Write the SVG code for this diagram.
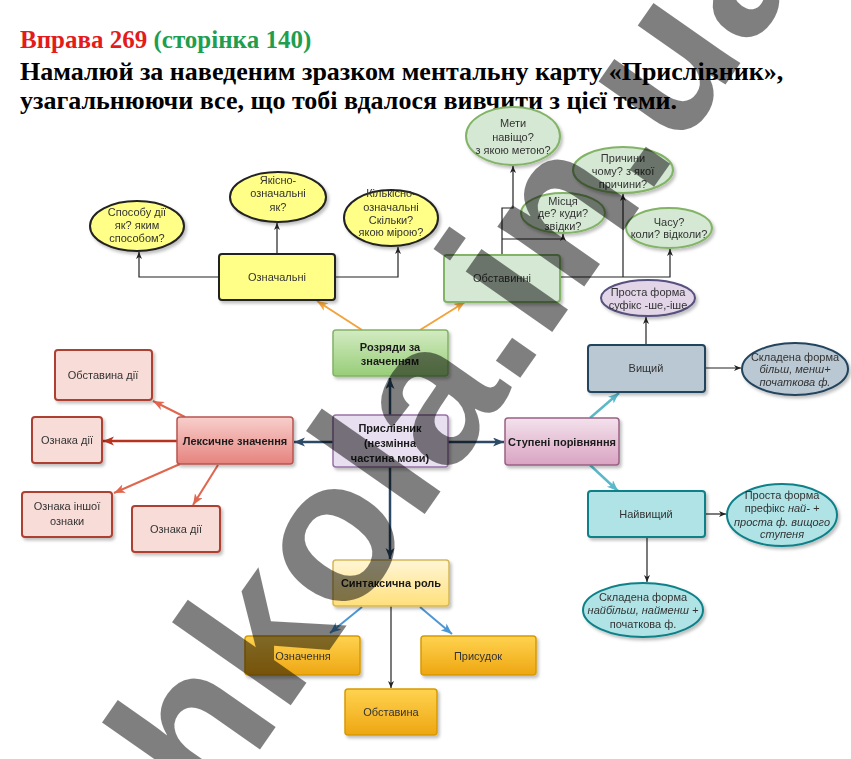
<svg xmlns="http://www.w3.org/2000/svg" width="851" height="759" viewBox="0 0 851 759">
<style>
.t{font-family:"Liberation Sans",Arial,sans-serif;font-size:11px;fill:#333;text-anchor:middle}
.b{font-weight:bold;fill:#1a1a1a}
.i{font-style:italic}
.thin{fill:none;stroke:#222;stroke-width:1.2}
.hd{font-family:"Liberation Serif","Times New Roman",serif;font-weight:bold}
</style>
<defs>
<filter id="sh" x="-20%" y="-20%" width="140%" height="150%"><feDropShadow dx="2" dy="2.5" stdDeviation="1.5" flood-color="#000" flood-opacity="0.25"/></filter>
<linearGradient id="gG" x1="0" y1="0" x2="0" y2="1"><stop offset="0" stop-color="#d3ebc2"/><stop offset="1" stop-color="#97cd78"/></linearGradient>
<linearGradient id="gR" x1="0" y1="0" x2="0" y2="1"><stop offset="0" stop-color="#f8cfcc"/><stop offset="1" stop-color="#e6837e"/></linearGradient>
<linearGradient id="gP" x1="0" y1="0" x2="0" y2="1"><stop offset="0" stop-color="#f3e2ec"/><stop offset="1" stop-color="#d9a3c2"/></linearGradient>
<linearGradient id="gY" x1="0" y1="0" x2="0" y2="1"><stop offset="0" stop-color="#fff6d6"/><stop offset="1" stop-color="#ffe07a"/></linearGradient>
<linearGradient id="gO" x1="0" y1="0" x2="0" y2="1"><stop offset="0" stop-color="#ffd34f"/><stop offset="1" stop-color="#eea612"/></linearGradient>
<marker id="mk" markerUnits="userSpaceOnUse" markerWidth="8" markerHeight="7" refX="7" refY="3" orient="auto"><path d="M0,0 L7,3 L0,6 L2,3 Z" fill="#222"/></marker>
<marker id="mn" markerUnits="userSpaceOnUse" markerWidth="12" markerHeight="10" refX="11" refY="4.5" orient="auto"><path d="M0,0 L11,4.5 L0,9 L3,4.5 Z" fill="#2c4a66"/></marker>
<marker id="mo" markerUnits="userSpaceOnUse" markerWidth="12" markerHeight="10" refX="11" refY="4.5" orient="auto"><path d="M0,0 L11,4.5 L0,9 L3,4.5 Z" fill="#f2a33c"/></marker>
<marker id="mr" markerUnits="userSpaceOnUse" markerWidth="12" markerHeight="10" refX="11" refY="4.5" orient="auto"><path d="M0,0 L11,4.5 L0,9 L3,4.5 Z" fill="#b5331f"/></marker>
<marker id="ms" markerUnits="userSpaceOnUse" markerWidth="12" markerHeight="10" refX="11" refY="4.5" orient="auto"><path d="M0,0 L11,4.5 L0,9 L3,4.5 Z" fill="#e0664d"/></marker>
<marker id="mt" markerUnits="userSpaceOnUse" markerWidth="12" markerHeight="10" refX="11" refY="4.5" orient="auto"><path d="M0,0 L11,4.5 L0,9 L3,4.5 Z" fill="#5ab8c8"/></marker>
<marker id="mb" markerUnits="userSpaceOnUse" markerWidth="12" markerHeight="10" refX="11" refY="4.5" orient="auto"><path d="M0,0 L11,4.5 L0,9 L3,4.5 Z" fill="#4d96d4"/></marker>
</defs>
<rect width="851" height="759" fill="#fff"/>

<g id="header">
<text class="hd" x="20" y="48" font-size="25"><tspan fill="#e31b1b">Вправа 269</tspan><tspan fill="#1f9e4f"> (сторінка 140)</tspan></text>
<text class="hd" x="20" y="80" font-size="26" fill="#000">Намалюй за наведеним зразком ментальну карту «Прислівник»,</text>
<text class="hd" x="20" y="109" font-size="26" fill="#000">узагальнюючи все, що тобі вдалося вивчити з цієї теми.</text>
</g>

<g id="connectors">
<path class="thin" d="M219,277 H139 V252" marker-end="url(#mk)"/>
<path class="thin" d="M277,254 V223" marker-end="url(#mk)"/>
<path class="thin" d="M335,277 H398 V247" marker-end="url(#mk)"/>
<path class="thin" d="M502,255 V208 H513 V166" marker-end="url(#mk)"/>
<path class="thin" d="M502,239 H563 V234" marker-end="url(#mk)"/>
<path class="thin" d="M560,277 H670 V249" marker-end="url(#mk)"/>
<path class="thin" d="M623,277 V194" marker-end="url(#mk)"/>
<path class="thin" d="M646,345 V317" marker-end="url(#mk)"/>
<path class="thin" d="M705,368 H741" marker-end="url(#mk)"/>
<path class="thin" d="M705,514 H726" marker-end="url(#mk)"/>
<path class="thin" d="M647,537 V582" marker-end="url(#mk)"/>
<path class="thin" d="M391,606 V688" marker-end="url(#mk)"/>
<g fill="none" stroke-width="2.5">
<path d="M390,415 V378" stroke="#2c4a66" marker-end="url(#mn)"/>
<path d="M448,442 H504" stroke="#2c4a66" marker-end="url(#mn)"/>
<path d="M333,442 H294" stroke="#2c4a66" marker-end="url(#mn)"/>
<path d="M390,467 V559" stroke="#2c4a66" marker-end="url(#mn)"/>
<path d="M177,441 H103" stroke="#b5331f" marker-end="url(#mr)"/>
<path d="M590,418 L619,393" stroke="#5ab8c8" marker-end="url(#mt)"/>
<path d="M590,465 L618,491" stroke="#5ab8c8" marker-end="url(#mt)"/>
</g>
<g fill="none" stroke-width="2">
<path d="M362,330 L317,301" stroke="#f2a33c" marker-end="url(#mo)"/>
<path d="M420,330 L465,302" stroke="#f2a33c" marker-end="url(#mo)"/>
<path d="M185,417 L153,401" stroke="#e0664d" marker-end="url(#ms)"/>
<path d="M180,464 L114,493" stroke="#e0664d" marker-end="url(#ms)"/>
<path d="M218,465 L193,505" stroke="#e0664d" marker-end="url(#ms)"/>
<path d="M362,607 L330,633" stroke="#4d96d4" marker-end="url(#mb)"/>
<path d="M420,607 L452,634" stroke="#4d96d4" marker-end="url(#mb)"/>
</g>
</g>

<g id="n-sposobu" filter="url(#sh)"><ellipse cx="137" cy="226" rx="47" ry="25" fill="#ffff88" stroke="#222" stroke-width="2"/><text class="t"><tspan x="137" y="216">Способу дії</tspan><tspan x="137" y="229">як? яким</tspan><tspan x="137" y="242">способом?</tspan></text></g>
<g id="n-yakisno" filter="url(#sh)"><ellipse cx="278" cy="197" rx="48" ry="25" fill="#ffff88" stroke="#222" stroke-width="2"/><text class="t"><tspan x="278" y="184">Якісно-</tspan><tspan x="278" y="197">означальні</tspan><tspan x="278" y="211">як?</tspan></text></g>
<g id="n-kilkisno" filter="url(#sh)"><ellipse cx="391" cy="218" rx="47" ry="28" fill="#ffff88" stroke="#222" stroke-width="2"/><text class="t"><tspan x="391" y="197">Кількісно-</tspan><tspan x="391" y="211">означальні</tspan><tspan x="391" y="224">Скільки?</tspan><tspan x="391" y="236">якою мірою?</tspan></text></g>
<g id="n-oznachalni" filter="url(#sh)"><rect x="219" y="254" width="116" height="46" rx="3" fill="#ffff88" stroke="#222" stroke-width="2"/><text class="t" x="277" y="281">Означальні</text></g>

<g id="n-meti" filter="url(#sh)"><ellipse cx="513" cy="136" rx="47" ry="29" fill="#d5e8d4" stroke="#82b366" stroke-width="2"/><text class="t"><tspan x="513" y="127">Мети</tspan><tspan x="513" y="141">навіщо?</tspan><tspan x="513" y="154">з якою метою?</tspan></text></g>
<g id="n-prychyny" filter="url(#sh)"><ellipse cx="623" cy="170" rx="50" ry="23" fill="#d5e8d4" stroke="#82b366" stroke-width="2"/><text class="t"><tspan x="623" y="162">Причини</tspan><tspan x="623" y="175">чому? з якої</tspan><tspan x="623" y="188">причини?</tspan></text></g>
<g id="n-mistsia" filter="url(#sh)"><ellipse cx="563" cy="213" rx="42" ry="20" fill="#d5e8d4" stroke="#82b366" stroke-width="2"/><text class="t"><tspan x="563" y="205">Місця</tspan><tspan x="563" y="217">де? куди?</tspan><tspan x="563" y="230">звідки?</tspan></text></g>
<g id="n-chasu" filter="url(#sh)"><ellipse cx="669" cy="228" rx="43" ry="20" fill="#d5e8d4" stroke="#82b366" stroke-width="2"/><text class="t"><tspan x="669" y="226">Часу?</tspan><tspan x="669" y="238">коли? відколи?</tspan></text></g>
<g id="n-obstavynni" filter="url(#sh)"><rect x="444" y="255" width="116" height="47" rx="3" fill="#d5e8d4" stroke="#82b366" stroke-width="2"/><text class="t" x="502" y="282">Обставинні</text></g>

<g id="n-rozriady" filter="url(#sh)"><rect x="333" y="330" width="115" height="46" rx="3" fill="url(#gG)" stroke="#82b366" stroke-width="1.5"/><text class="t b" font-size="10.5"><tspan x="390" y="351">Розряди за</tspan><tspan x="390" y="365">значенням</tspan></text></g>
<g id="n-pryslivnyk" filter="url(#sh)"><rect x="333" y="415" width="115" height="52" rx="3" fill="#e8dff0" stroke="#9673a6" stroke-width="1.5"/><text class="t b" font-size="13"><tspan x="390" y="432">Прислівник</tspan><tspan x="390" y="447">(незмінна</tspan><tspan x="390" y="462">частина мови)</tspan></text></g>
<g id="n-stupeni" filter="url(#sh)"><rect x="505" y="418" width="114" height="47" rx="3" fill="url(#gP)" stroke="#996185" stroke-width="1.5"/><text class="t b" font-size="10.5" x="562" y="446">Ступені порівняння</text></g>
<g id="n-leksychne" filter="url(#sh)"><rect x="177" y="417" width="116" height="47" rx="3" fill="url(#gR)" stroke="#b85450" stroke-width="1.5"/><text class="t b" font-size="10.5" x="235" y="445">Лексичне значення</text></g>

<g id="n-obst-dii" filter="url(#sh)"><rect x="55" y="350" width="97" height="50" rx="3" fill="#f8dcd8" stroke="#ae4132" stroke-width="2"/><text class="t" x="103" y="379">Обставина дії</text></g>
<g id="n-oznaka-dii-1" filter="url(#sh)"><rect x="32" y="417" width="70" height="46" rx="3" fill="#f8dcd8" stroke="#ae4132" stroke-width="2"/><text class="t" x="67" y="444">Ознака дії</text></g>
<g id="n-oznaka-inshoi" filter="url(#sh)"><rect x="22" y="492" width="90" height="45" rx="3" fill="#f8dcd8" stroke="#ae4132" stroke-width="2"/><text class="t"><tspan x="67" y="510">Ознака іншої</tspan><tspan x="67" y="525">ознаки</tspan></text></g>
<g id="n-oznaka-dii-2" filter="url(#sh)"><rect x="132" y="506" width="88" height="46" rx="3" fill="#f8dcd8" stroke="#ae4132" stroke-width="2"/><text class="t" x="176" y="533">Ознака дії</text></g>

<g id="n-prosta-1" filter="url(#sh)"><ellipse cx="648" cy="298" rx="47" ry="18" fill="#e1d5e7" stroke="#56517e" stroke-width="2"/><text class="t"><tspan x="648" y="296">Проста форма</tspan><tspan x="648" y="309">суфікс -ше,-іше</tspan></text></g>
<g id="n-vyshchyi" filter="url(#sh)"><rect x="588" y="345" width="117" height="47" rx="3" fill="#bac8d3" stroke="#23445d" stroke-width="2"/><text class="t" x="646" y="372">Вищий</text></g>
<g id="n-skladena-1" filter="url(#sh)"><ellipse cx="795" cy="369" rx="53" ry="26" fill="#bac8d3" stroke="#23445d" stroke-width="2"/><text class="t"><tspan x="795" y="361">Складена форма</tspan><tspan class="i" x="795" y="373">більш, менш+</tspan><tspan class="i" x="795" y="386">початкова ф.</tspan></text></g>
<g id="n-naivyshchyi" filter="url(#sh)"><rect x="588" y="491" width="117" height="46" rx="3" fill="#b0e3e6" stroke="#0e8088" stroke-width="2"/><text class="t" x="646" y="518">Найвищий</text></g>
<g id="n-prosta-2" filter="url(#sh)"><ellipse cx="782" cy="515" rx="55" ry="31" fill="#b0e3e6" stroke="#0e8088" stroke-width="2"/><text class="t"><tspan x="782" y="499">Проста форма</tspan><tspan x="782" y="512">префікс <tspan class="i">най- +</tspan></tspan><tspan class="i" x="782" y="526">проста ф. вищого</tspan><tspan class="i" x="782" y="538">ступеня</tspan></text></g>
<g id="n-skladena-2" filter="url(#sh)"><ellipse cx="643" cy="610" rx="60" ry="27" fill="#b0e3e6" stroke="#0e8088" stroke-width="2"/><text class="t"><tspan x="643" y="601">Складена форма</tspan><tspan class="i" x="643" y="614">найбільш, найменш +</tspan><tspan x="643" y="628">початкова ф.</tspan></text></g>

<g id="n-syntaksychna" filter="url(#sh)"><rect x="333" y="560" width="116" height="46" rx="3" fill="url(#gY)" stroke="#d6b656" stroke-width="1.5"/><text class="t b" font-size="10.5" x="391" y="587">Синтаксична роль</text></g>
<g id="n-oznachennia" filter="url(#sh)"><rect x="245" y="636" width="115" height="39" rx="3" fill="url(#gO)" stroke="#d79b00" stroke-width="1.5"/><text class="t" x="303" y="660">Означення</text></g>
<g id="n-prysudok" filter="url(#sh)"><rect x="421" y="636" width="115" height="39" rx="3" fill="url(#gO)" stroke="#d79b00" stroke-width="1.5"/><text class="t" x="478" y="660">Присудок</text></g>
<g id="n-obstavyna" filter="url(#sh)"><rect x="345" y="689" width="92" height="46" rx="3" fill="url(#gO)" stroke="#d79b00" stroke-width="1.5"/><text class="t" x="391" y="716">Обставина</text></g>

<g id="watermark"><text transform="translate(149,908) rotate(-55)" font-family="'Liberation Sans',Arial,sans-serif" font-weight="bold" font-size="200" fill="#000" fill-opacity="0.5">shkola.in.ua</text></g>
</svg>
